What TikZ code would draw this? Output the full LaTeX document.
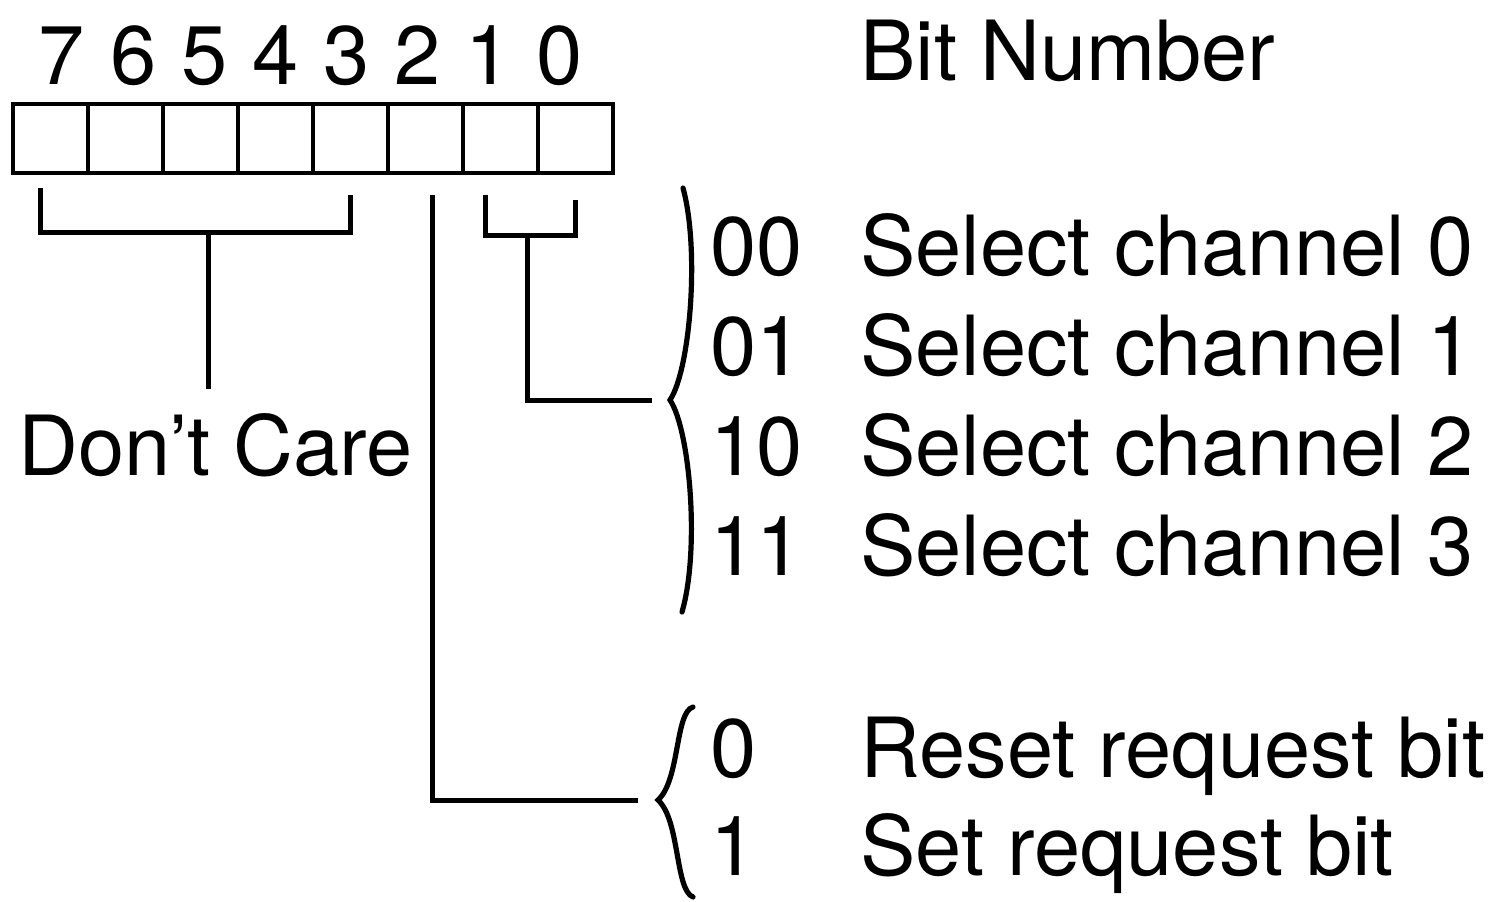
\documentclass[tikz,border=0pt]{standalone}
\usepackage{fontspec}
\setmainfont{TeX Gyre Heros}
\usepackage{tikz}
\usetikzlibrary{calc,positioning}

\begin{document}
\begin{tikzpicture}[
    x=0.5pt,
    y=-0.5pt,
    every node/.style={font=\fontsize{41.5}{48}\selectfont, inner sep=0pt},
    cell/.style={draw, line width=2pt, minimum width=37.5pt, minimum height=34.5pt},
    wire/.style={line width=2.5pt},
    brace/.style={line width=2.6pt, line cap=round},
    txt/.style={anchor=base west}
]

\useasboundingbox (0,0) rectangle (1504,901);

% ---------------------------------------------------------
% Register cells and bit numbers
% ---------------------------------------------------------

\foreach \d [count=\i from 0] in {7,6,5,4,3,2,1,0}{
    \node[cell] (b\d) at (50.5+75*\i,138.5) {};
    \node[anchor=base] (n\d) at (62+71.1*\i,84) {\d};
}

\node[txt] (bitnum) at (860,80) {Bit Number};

% ---------------------------------------------------------
% Bits 7--3
% ---------------------------------------------------------

\coordinate (dc7) at (40,188);
\coordinate (dc3) at (350,195);
\coordinate (dcmid) at (208,232);

\draw[wire] (dc7) |- (dc3 |- dcmid) -- (dc3);

\node[txt] (dontcare) at (18,475) {Don’t Care};

\draw[wire,shorten >=12pt] (dcmid) -- (dcmid |- dontcare.north);

% ---------------------------------------------------------
% Bits 1--0: channel select
% ---------------------------------------------------------

\coordinate (b1tap) at (485,195);
\coordinate (b0tap) at (575,200);
\coordinate (chmid) at (527,235);
\coordinate (chin) at (652,400);

\draw[wire] (b1tap) |- (b0tap |- chmid) -- (b0tap);
\draw[wire] (chmid) |- (chin);

\draw[brace]
    (683,188)
    .. controls (700,250) and (690,370) ..
    (670,400)
    .. controls (690,430) and (700,550) ..
    (682,612);

\foreach \c/\k in {00/0,01/1,10/2,11/3}{
    \node[txt] (code\k) at (710,275+100*\k) {\c};
    \node[txt] (sel\k) at (860,275+100*\k) {Select channel \k};
}

% ---------------------------------------------------------
% Bit 2: request bit
% ---------------------------------------------------------

\coordinate (b2tap) at (432,195);
\coordinate (rqin) at (638,800);

\draw[wire] (b2tap) |- (rqin);

\draw[brace]
    (693,707)
    .. controls (675,712) and (680,780) ..
    (658,800)
    .. controls (680,820) and (675,890) ..
    (693,897);

\node[txt] (rq0) at (710,777) {0};
\node[txt] (rq1) at (710,875) {1};
\node[txt] (reset) at (860,777) {Reset request bit};
\node[txt] (set) at (860,875) {Set request bit};

\end{tikzpicture}
\end{document}
